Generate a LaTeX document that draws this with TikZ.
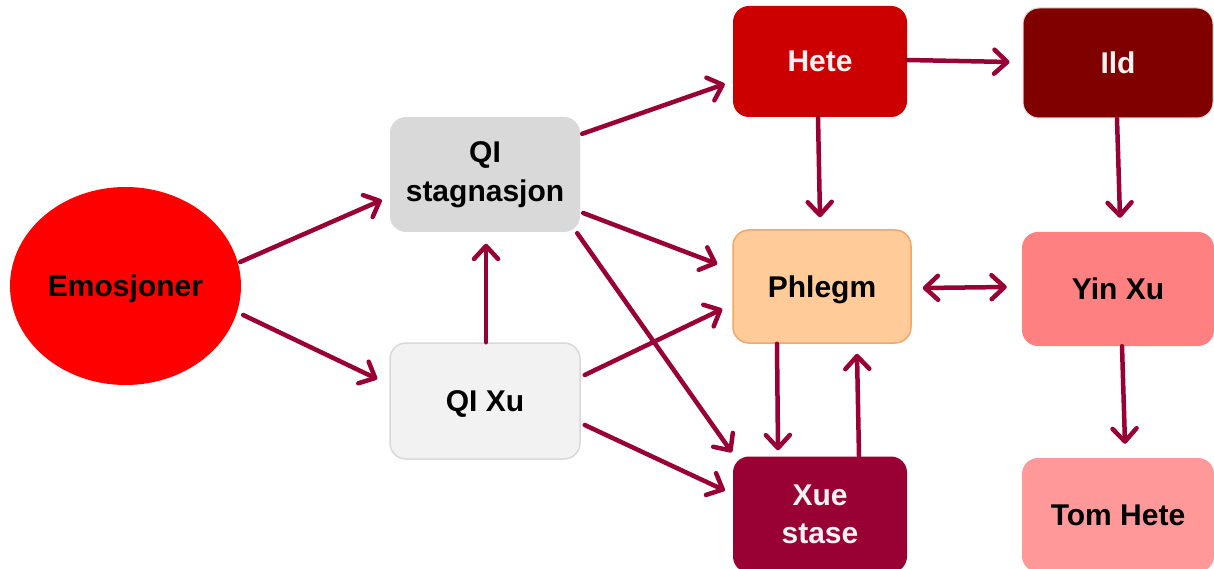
\documentclass[tikz,border=0pt]{standalone}
\usepackage{fontspec}
\setmainfont{Liberation Sans}
\usetikzlibrary{arrows.meta,calc,shapes.geometric}
\definecolor{arr}{HTML}{990033}
\definecolor{heteC}{HTML}{CC0000}
\definecolor{ildC}{HTML}{800000}
\definecolor{phlC}{HTML}{FFCC99}
\definecolor{phlB}{HTML}{F4A66A}
\definecolor{yinC}{HTML}{FF8080}
\definecolor{tomC}{HTML}{FF9999}
\definecolor{xueC}{HTML}{990033}
\definecolor{qsC}{HTML}{D9D9D9}
\definecolor{qxC}{HTML}{F2F2F2}
\definecolor{wtxt}{HTML}{F2F2F2}
\tikzset{
  box/.style={rectangle, rounded corners=16pt, inner sep=0pt, align=center,
    font=\fontsize{30}{38.5}\selectfont\bfseries},
  one/.style={text height=21pt, text depth=0pt},
  conn/.style={draw=arr, line width=4.5pt, line cap=round,
    -{Straight Barb[length=13pt,width=24pt,line cap=round,round]}},
  conn2/.style={draw=arr, line width=4.5pt, line cap=round,
    {Straight Barb[length=13pt,width=24pt,line cap=round,round]}-{Straight Barb[length=13pt,width=24pt,line cap=round,round]}}
}
\begin{document}
\begin{tikzpicture}[x=1pt,y=-1pt]
\useasboundingbox (0,0) rectangle (1214,569);
\node[ellipse, fill=red, minimum width=231pt, minimum height=198pt, inner sep=0pt, one,
  font=\fontsize{30}{38}\selectfont\bfseries] (emo) at (125.5,286) {Emosjoner};
\node[box, fill=qsC, minimum width=190pt, minimum height=115pt] (qs) at (485,174.5) {QI\\stagnasjon};
\node[box, one, fill=qxC, draw=qsC, line width=1.5pt, minimum width=190pt, minimum height=116pt] (qx) at (485,401) {QI Xu};
\node[box, one, fill=heteC, text=wtxt, minimum width=174pt, minimum height=111pt] (hete) at (820,61.5) {Hete};
\node[box, one, fill=ildC, draw=qsC, line width=1pt, text=wtxt, minimum width=190pt, minimum height=110pt] (ild) at (1118,63) {Ild};
\node[box, one, fill=phlC, draw=phlB, line width=1.5pt, minimum width=178pt, minimum height=113pt] (phl) at (822,286.5) {Phlegm};
\node[box, one, fill=yinC, minimum width=192pt, minimum height=114pt] (yin) at (1118,289) {Yin Xu};
\node[box, fill=xueC, text=wtxt, minimum width=174pt, minimum height=116pt] (xue) at (820,514.5) {Xue\\stase};
\node[box, one, fill=tomC, minimum width=192pt, minimum height=114pt] (tom) at (1118,515) {Tom Hete};

\draw[conn] ($(emo.east)+(-1,-24)$) -- ($(qs.west)+(-8,25.5)$);
\draw[conn] ($(emo.east)+(2,29)$) -- ($(qx.west)+(-12,-22)$);
\draw[conn] ($(qx.north)+(1,0)$) -- ($(qs.south)+(1,11.5)$);
\draw[conn] ($(qs.north east)+(2,17)$) -- ($(hete.west)+(-8,22.5)$);
\draw[conn] ($(qs.east)+(3,38.5)$) -- ($(phl.west)+(-15,-22.5)$);
\draw[conn] ($(qs.south east)+(-3,1)$) -- ($(xue.north west)+(-1,-4)$);
\draw[conn] ($(qx.east)+(4,-26)$) -- ($(phl.west)+(-10,22.5)$);
\draw[conn] ($(qx.east)+(4,24)$) -- ($(xue.west)+(-8,-24)$);
\draw[conn] ($(hete.east)+(0,-1.5)$) -- ($(ild.west)+(-13,-1)$);
\draw[conn] ($(hete.south)+(-2,0)$) -- ($(phl.north)+(-2,-12)$);
\draw[conn] ($(ild.south)+(-1,0)$) -- ($(yin.north)+(2,-14)$);
\draw[conn2] ($(phl.east)+(11,1.5)$) -- ($(yin.west)+(-15,-2)$);
\draw[conn] ($(phl.south)+(-45,0)$) -- ($(xue.north)+(-42,-6)$);
\draw[conn] ($(xue.north)+(39,0)$) -- ($(phl.south)+(35,10)$);
\draw[conn] ($(yin.south)+(4,0)$) -- ($(tom.north)+(7,-14)$);
\end{tikzpicture}
\end{document}
